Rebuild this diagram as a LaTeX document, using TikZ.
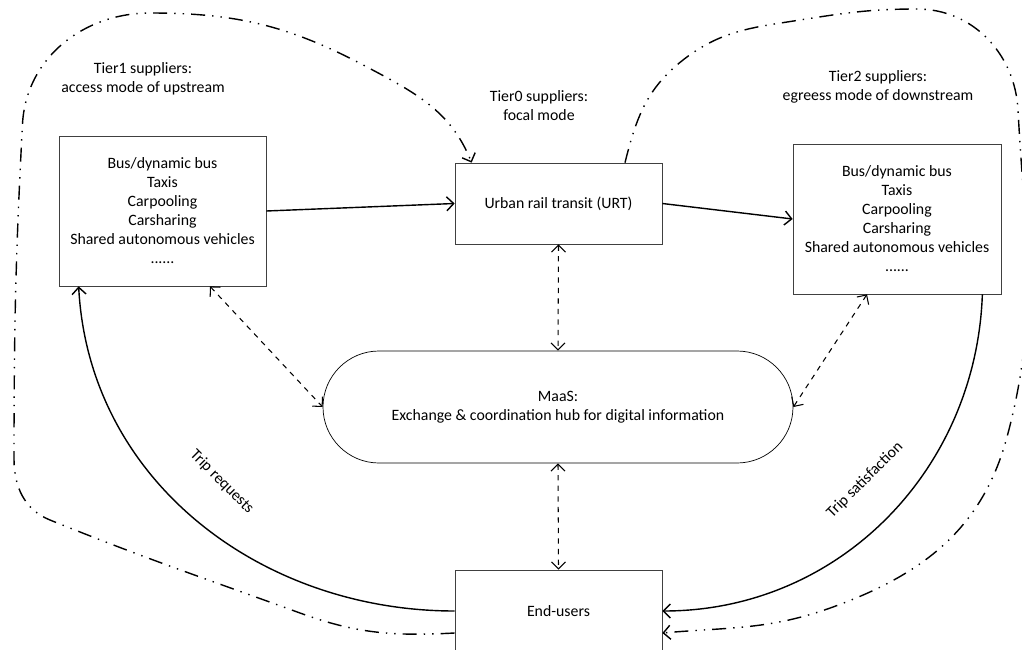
\documentclass[tikz,border=0pt]{standalone}
\usepackage{fontspec}
\setmainfont{Carlito}
\usetikzlibrary{arrows.meta}
\begin{document}
\begin{tikzpicture}[>={Straight Barb[length=1.4mm,width=2.8mm]},
  font=\fontsize{9}{10.8}\selectfont,
  box/.style={draw=black!75, thin, align=center, inner sep=0pt},
  link/.style={->, thick},
  infolink/.style={<->, semithick, dashed},
  tierloop/.style={->, thick, dash pattern=on 8pt off 4pt on 0.8pt off 4pt on 0.8pt off 4pt},
  tierlabel/.style={align=center}]
\useasboundingbox (0,0) rectangle (20.44,12.98);
\clip (0,0) rectangle (20.44,12.98);
\node[box, minimum width=4.14cm, minimum height=3cm] (t1) at (3.25,8.76) {Bus/dynamic bus\\Taxis\\Carpooling\\Carsharing\\Shared autonomous vehicles\\......};
\node[box, minimum width=4.14cm, minimum height=1.62cm] (urt) at (11.17,8.91) {Urban rail transit (URT)};
\node[box, minimum width=4.16cm, minimum height=3cm] (t2) at (17.94,8.6) {Bus/dynamic bus\\Taxis\\Carpooling\\Carsharing\\Shared autonomous vehicles\\......};
\node[draw, thin, rounded corners=1.12cm, minimum width=9.4cm, minimum height=2.24cm, align=center] (maas) at (11.16,4.84) {MaaS:\\Exchange \& coordination hub for digital information};
\node[box, minimum width=4.14cm, minimum height=1.64cm] (users) at (11.17,0.76) {End-users};
\node[tierlabel] (tier1) at (2.86,11.4) {Tier1 suppliers:\\access mode of upstream};
\node[tierlabel] (tier0) at (10.78,10.86) {Tier0 suppliers:\\focal mode};
\node[tierlabel] (tier2) at (17.56,11.24) {Tier2 suppliers:\\egreess mode of downstream};
\draw[link] (t1.east) -- (urt.west);
\draw[link] (urt.east) -- (t2.west);
\draw[infolink] ([xshift=0.95cm]t1.south) -- (maas.west);
\draw[infolink] (urt.south) -- (maas.north);
\draw[infolink] (maas.south) -- (users.north);
\draw[infolink] ([xshift=-0.6cm]t2.south) -- (maas.east);
\draw[link] (users.west) to[out=180,in=-87] ([xshift=0.4cm]t1.south west);
\draw[link] ([xshift=-0.38cm]t2.south east) to[out=-92,in=0] (users.east);
\node[rotate=-45] (req) at (4.44,3.34) {Trip requests};
\node[rotate=45] (sat) at (17.3,3.38) {Trip satisfaction};
\draw[tierloop] ([yshift=-0.44cm]users.west) to[out=183,in=-20] (6.0,0.72) to[out=160,in=-22] (1.0,2.58)
  to[out=158,in=-90] (0.28,3.8) to[out=90,in=-93] (0.45,10.5) to[out=87,in=180] (3.0,12.72)
  to[out=0,in=152] (7.34,11.64) to[out=-28,in=112] ([xshift=0.34cm]urt.north west);
\draw[tierloop] ([xshift=1.33cm]urt.north) to[out=76,in=-142] (13.66,11.78) to[out=38,in=189] (16.0,12.58)
  to[out=9,in=180] (18.34,12.8) to[out=0,in=93] (20.36,10.78) to[out=-87,in=75] (20.14,4.24)
  to[out=-105,in=20] (16.66,0.84) to[out=-160,in=5] ([yshift=-0.44cm]users.east);
\end{tikzpicture}
\end{document}
